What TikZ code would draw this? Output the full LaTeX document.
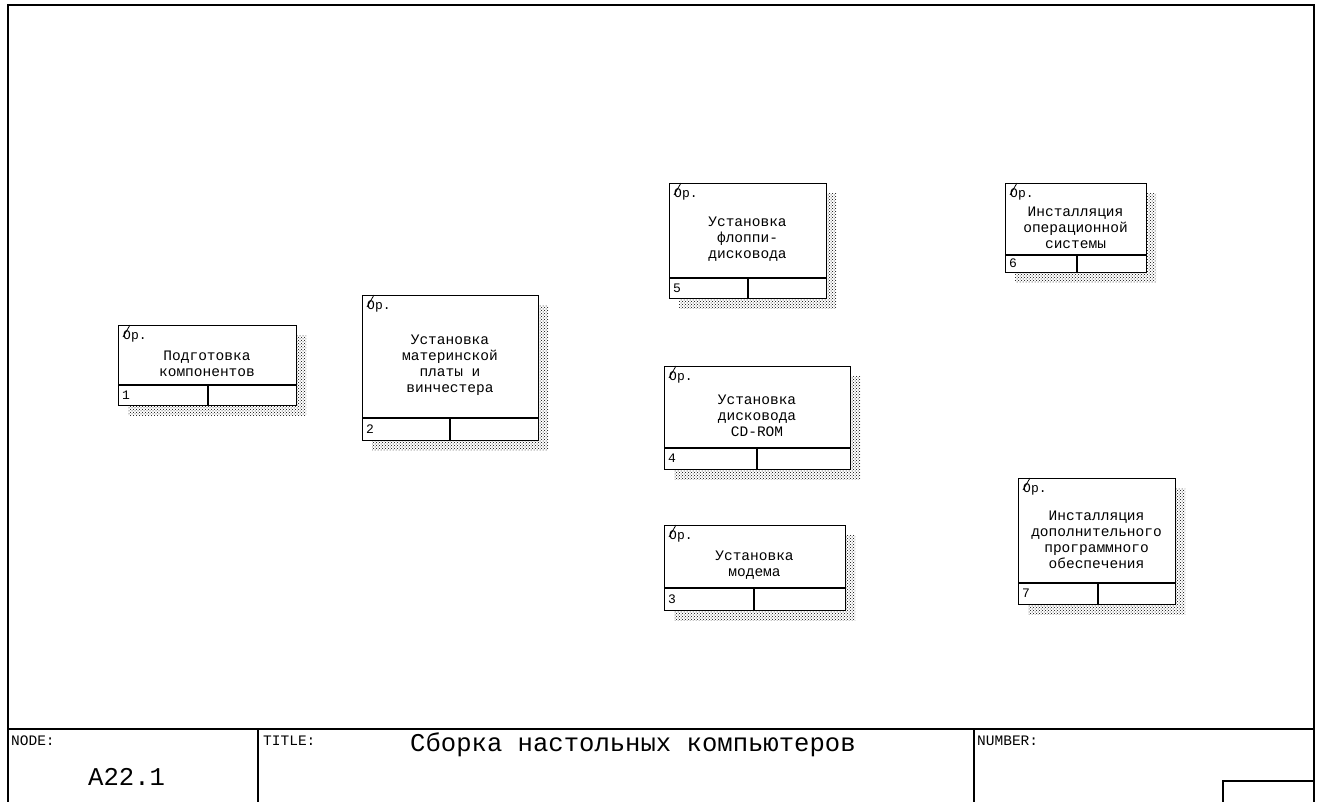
\documentclass[tikz,border=0pt]{standalone}
\usepackage{fontspec}
\setmainfont{Liberation Mono}
\usetikzlibrary{patterns}
\tikzset{
  frameline/.style={line width=1.6pt, line cap=rect},
  boxline/.style={line width=1.3pt},
  abox/.style={draw, fill=white, line width=1.3pt, inner sep=0pt},
  shadowfill/.style={pattern=crosshatch dots, pattern color=black},
  boxtext/.style={font=\fontsize{14.5}{16}\selectfont, align=center, inner sep=0pt},
  numtext/.style={font=\fontsize{13}{13}\selectfont, inner sep=0pt},
  optext/.style={font=\fontsize{13}{13}\selectfont, inner sep=0pt},
  labeltext/.style={font=\fontsize{14.5}{15}\selectfont, inner sep=0pt},
  bigtext/.style={font=\fontsize{25.6}{26}\selectfont, inner sep=0pt},
}
\newcommand\ibox[9]{%
  \fill[shadowfill] (#2+10,#3+10) rectangle (#4+10,#5+10);
  \node[abox, anchor=north west, minimum width={(#4-#2)*1pt}, minimum height={(#5-#3)*1pt}] (#1) at (#2,#3) {};
  \draw[boxline] (#2,#6) -- (#4,#6) (#7,#6) -- (#7,#5);
  \node[boxtext] (#1-txt) at ({(#2+#4)/2},{(#3+#6)/2+9}) {#9};
  \node[numtext, anchor=west] (#1-num) at (#2+4,{(#6+#5)/2}) {#8};
  \node[optext, anchor=north west] (#1-op) at (#2+5,#3+6) {Ор.};
  \draw[line width=0.8pt] (#2+5,#3+12) -- (#2+12,#3);
}
\begin{document}
\begin{tikzpicture}[x=1pt, y=-1pt]
\useasboundingbox (0,0) rectangle (1320,801);
% outer frame and title block
\draw[frameline] (8,803) -- (8,5) -- (1314,5) -- (1314,803);
\draw[frameline] (8,729) -- (1314,729);
\draw[frameline] (258,729) -- (258,803);
\draw[frameline] (974,729) -- (974,803);
\draw[frameline] (1223,803) -- (1223,781) -- (1314,781);
\node[labeltext, anchor=base west] (nodelbl) at (11,745) {NODE:};
\node[labeltext, anchor=base west] (titlelbl) at (263,745) {TITLE:};
\node[labeltext, anchor=base west] (numlbl) at (977,745) {NUMBER:};
\node[bigtext, anchor=base west] (nodeval) at (88,785) {A22.1};
\node[bigtext, anchor=base west] (titleval) at (410,751) {Сборка настольных компьютеров};
% activity boxes
\ibox{b1}{118}{325}{296}{405}{385}{208}{1}{Подготовка\\компонентов}
\ibox{b2}{362}{295}{538}{440}{418}{450}{2}{Установка\\материнской\\платы и\\винчестера}
\ibox{b5}{669}{183}{826}{298}{278}{748}{5}{Установка\\флоппи-\\дисковода}
\ibox{b4}{664}{366}{850}{469}{448}{757}{4}{Установка\\дисковода\\CD-ROM}
\ibox{b3}{664}{525}{845}{610}{588}{754}{3}{Установка\\модема}
\ibox{b6}{1005}{183}{1146}{272}{255}{1077}{6}{Инсталляция\\операционной\\системы}
\ibox{b7}{1018}{478}{1175}{604}{583}{1098}{7}{Инсталляция\\дополнительного\\программного\\обеспечения}
\end{tikzpicture}
\end{document}
